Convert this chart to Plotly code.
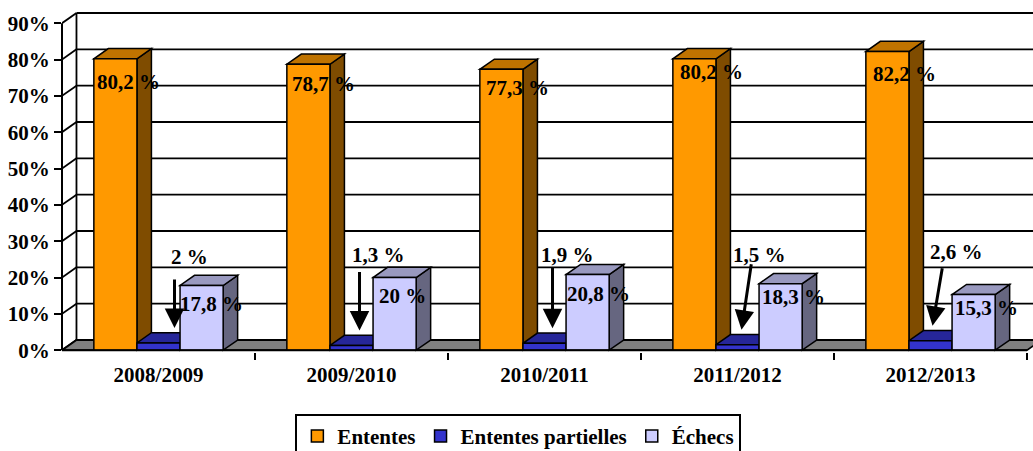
import plotly.graph_objects as go

# Data
years = ["2008/2009", "2009/2010", "2010/2011", "2011/2012", "2012/2013"]
ententes = [80.2, 78.7, 77.3, 80.2, 82.2]
partielles = [2.0, 1.3, 1.9, 1.5, 2.6]
echecs = [17.8, 20.0, 20.8, 18.3, 15.3]
y_ticks = [0, 10, 20, 30, 40, 50, 60, 70, 80, 90]

series = [
    ("Ententes", ententes, "#FF9900", "#BF7300", "#7F4C00"),
    ("Ententes partielles", partielles, "#3333CC", "#262699", "#1A1A66"),
    ("Échecs", echecs, "#CCCCFF", "#9999BF", "#666680"),
]

FONT = "Liberation Serif"

# fake 3D depth (x in category units, y in %)
DX = 0.075
DY = 2.8
BARGAP = 0.33
GW = 1 - BARGAP
W = GW / 3
XMIN, XMAX = -0.5, 4.531

# label nudges (pixels)
ent_shift = [(13, -23), (15, -20), (16, -19), (17, -13), (17, -22)]
ech_shift = [(10, -18), (8, -18), (11, -19), (13, -13), (13, -13)]
part_text_shift = [(31, 86), (27, 90), (23, 88), (22, 90), (26, 89)]
part_tip_dx = [16, 8, 8, 4, 2]
part_tail = [(0, -50), (0, -60), (0, -62), (10, -67), (10, -59)]


def fmt(v):
    s = f"{v:.1f}"
    if s.endswith(".0"):
        s = s[:-2]
    return s.replace(".", ",") + " %"


def path(pts):
    return "M " + " L ".join(f"{x},{y}" for x, y in pts) + " Z"


fig = go.Figure()
for name, vals, front, top, side in series:
    fig.add_trace(go.Bar(
        x=list(range(len(years))), y=vals, name=name,
        marker=dict(color=front, line=dict(color="black", width=1.5)),
        hoverinfo="skip",
    ))

shapes = []
line = dict(color="black", width=1.8)
# back wall + left wall grid
for v in y_ticks:
    shapes.append(dict(type="line", layer="below", xref="x", yref="y",
                       x0=XMIN + DX, y0=v + DY, x1=XMAX + 0.2, y1=v + DY, line=line))
    shapes.append(dict(type="line", layer="below", xref="x", yref="y",
                       x0=XMIN, y0=v, x1=XMIN + DX, y1=v + DY, line=line))
shapes.append(dict(type="line", layer="below", xref="x", yref="y",
                   x0=XMIN + DX, y0=DY, x1=XMIN + DX, y1=y_ticks[-1] + DY, line=line))
# floor
shapes.append(dict(type="path", layer="below", xref="x", yref="y",
                   path=path([(XMIN, 0), (4.5, 0), (4.5 + DX, DY), (XMIN + DX, DY)]),
                   fillcolor="#808080", line=line))
# top and side faces of each bar
for i in range(len(years)):
    for j, (name, vals, front, top, side) in enumerate(series):
        v = vals[i]
        x0 = i - GW / 2 + j * W
        x1 = x0 + W
        shapes.append(dict(type="path", layer="below", xref="x", yref="y",
                           path=path([(x1, 0), (x1, v), (x1 + DX, v + DY), (x1 + DX, DY)]),
                           fillcolor=side, line=dict(color="black", width=1.5)))
        shapes.append(dict(type="path", layer="below", xref="x", yref="y",
                           path=path([(x0, v), (x1, v), (x1 + DX, v + DY), (x0 + DX, v + DY)]),
                           fillcolor=top, line=dict(color="black", width=1.5)))
# front axes
shapes.append(dict(type="line", xref="paper", yref="y", x0=0, x1=0, y0=0, y1=y_ticks[-1],
                   line=dict(color="black", width=2)))
shapes.append(dict(type="line", xref="x", yref="y", x0=XMIN, x1=4.5, y0=0, y1=0,
                   line=dict(color="black", width=2)))

annotations = []
for i in range(len(years)):
    xs = [i - GW / 2 + j * W + W / 2 for j in range(3)]
    annotations.append(dict(x=xs[0], y=ententes[i], text=fmt(ententes[i]), showarrow=False,
                            xshift=ent_shift[i][0], yshift=ent_shift[i][1]))
    annotations.append(dict(x=xs[2], y=echecs[i], text=fmt(echecs[i]), showarrow=False,
                            xshift=ech_shift[i][0], yshift=ech_shift[i][1]))
    annotations.append(dict(x=xs[1], y=partielles[i], text=fmt(partielles[i]), showarrow=False,
                            xshift=part_text_shift[i][0], yshift=part_text_shift[i][1]))
    annotations.append(dict(x=xs[1], y=partielles[i], text="", showarrow=True,
                            xshift=part_tip_dx[i], yshift=15,
                            ax=part_tail[i][0], ay=part_tail[i][1],
                            arrowhead=2, arrowsize=1.3, arrowwidth=3, arrowcolor="black"))

fig.update_layout(
    width=1033, height=451,
    margin=dict(l=62, r=0, t=10, b=99, autoexpand=False),
    paper_bgcolor="white", plot_bgcolor="white",
    font=dict(family=FONT, size=21, color="black", weight="bold"),
    barmode="group", bargap=BARGAP, bargroupgap=0,
    shapes=shapes, annotations=annotations,
    showlegend=True,
    legend=dict(orientation="h", x=0.47, xanchor="center", y=-0.181, yanchor="top",
                bordercolor="black", borderwidth=2, bgcolor="white",
                itemwidth=30, tracegroupgap=0,
                font=dict(family=FONT, size=21, weight="bold")),
    xaxis=dict(range=[XMIN, XMAX], tickvals=list(range(len(years))), ticktext=years,
               showgrid=False, zeroline=False, showline=False, ticks="", automargin=False,
               ticklabelstandoff=8,
               tickfont=dict(family=FONT, size=21, weight="bold"),
               minor=dict(tickmode="array", tickvals=[k + 0.5 for k in range(len(years))],
                          ticks="outside", ticklen=7, tickwidth=2, tickcolor="black")),
    yaxis=dict(range=[-0.5, 93.63], tickvals=y_ticks, ticktext=[f"{v}%" for v in y_ticks],
               showgrid=False, zeroline=False, showline=False, automargin=False,
               tickfont=dict(family=FONT, size=21, weight="bold"),
               ticks="outside", ticklen=7, tickwidth=2, tickcolor="black"),
)

# the page's default body margin would push the figure 8px down/right
fig.write_html("out.html", config={"displayModeBar": False},
               post_script="document.body.style.margin='0';")
